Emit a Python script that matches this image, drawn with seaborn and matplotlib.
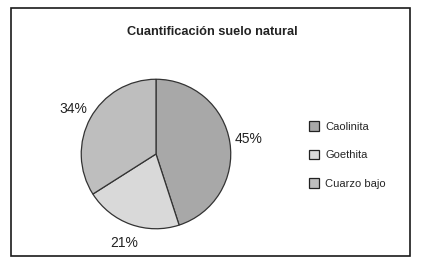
import matplotlib
matplotlib.use("Agg")
import matplotlib.pyplot as plt
import seaborn as sns
from matplotlib.patches import Rectangle, Patch

sns.set_theme(style="white")
plt.rcParams['font.family'] = ['Liberation Sans', 'DejaVu Sans']

categories = ["Caolinita", "Goethita", "Cuarzo bajo"]
values = [45, 21, 34]
labels = ["45%", "21%", "34%"]
colors = ["#a8a8a8", "#d9d9d9", "#bebebe"]

W, H = 422, 264
fig = plt.figure(figsize=(W / 100, H / 100), dpi=100)
fig.patch.set_facecolor("white")

# frame
fig.patches.append(Rectangle((11 / W, 8 / H), (410 - 11) / W, (256 - 8) / H,
                             transform=fig.transFigure, fill=False,
                             edgecolor="#1a1a1a", linewidth=1.2))

cx, cy, r = 156, 154, 75.5
ax = fig.add_axes([(cx - r) / W, (H - cy - r) / H, 2 * r / W, 2 * r / H])
wedges, texts = ax.pie(values, labels=labels, colors=colors, startangle=90,
                       counterclock=False, labeldistance=1.26,
                       wedgeprops=dict(edgecolor="#333333", linewidth=0.9),
                       textprops=dict(fontsize=10, color="#222222"))
for t in texts:
    t.set_ha("center")
    t.set_va("center")
ax.set_aspect("equal")
ax.set_xlim(-1.01, 1.01)
ax.set_ylim(-1.01, 1.01)
ax.axis("off")

fig.text(212 / W, 1 - 32 / H, "Cuantificación suelo natural", ha="center", va="center",
         fontsize=9.2, fontweight="bold", color="#222222")

handles = [Patch(facecolor=c, edgecolor="#222222", linewidth=0.9, label=l)
           for c, l in zip(colors, categories)]
fig.legend(handles=handles, loc="center left", bbox_to_anchor=(303 / W, 1 - 155 / H),
           frameon=False, fontsize=8, handlelength=0.95, handleheight=0.95,
           handletextpad=0.55, labelspacing=1.62, borderpad=0)

fig.savefig("out.png", dpi=100, facecolor="white")
